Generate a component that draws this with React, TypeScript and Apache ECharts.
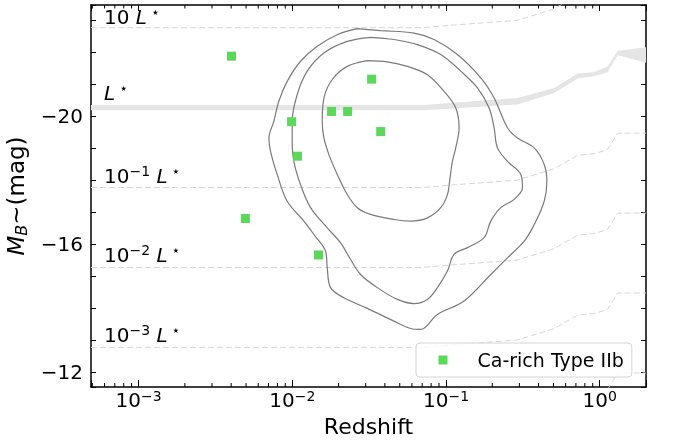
import React, { useEffect, useRef } from 'react';
import * as echarts from 'echarts';

const FONT = 'DejaVu Sans';

// Ca-rich Type IIb sample (redshift, M_B)
const caRichZ = [0.00402, 0.00989, 0.0108, 0.018, 0.0229, 0.0328, 0.0376, 0.00495, 0.0148];
const caRichMag = [-21.88, -19.83, -18.75, -20.15, -20.15, -21.16, -19.52, -16.8, -15.66];

// density contours of the comparison sample
const outerZ = [0.02646, 0.03754, 0.06189, 0.08357, 0.1186, 0.1683, 0.2055, 0.2511, 0.2917, 0.3746, 0.4352, 0.453, 0.4352, 0.3746, 0.3225, 0.2511, 0.1955, 0.131, 0.08785, 0.06843, 0.05891, 0.04587, 0.03074, 0.02166, 0.01773, 0.01687, 0.01645, 0.01381, 0.01189, 0.00926, 0.00797, 0.00721, 0.00704, 0.00758, 0.00817, 0.00926, 0.01131, 0.01452, 0.0196];
const outerMag = [-22.74, -22.68, -22.6, -22.4, -21.93, -21.2, -20.57, -19.64, -19.32, -19.01, -18.49, -17.97, -17.34, -16.61, -16.09, -15.57, -15.05, -14.22, -13.8, -13.33, -13.36, -13.59, -13.99, -14.32, -14.64, -15.26, -15.78, -16.3, -16.72, -17.34, -18.18, -18.91, -19.32, -19.84, -20.47, -21.09, -21.72, -22.19, -22.55];
const middleZ = [0.03232, 0.04587, 0.06509, 0.09236, 0.1247, 0.1601, 0.1907, 0.2055, 0.2161, 0.2511, 0.3067, 0.3144, 0.2773, 0.2271, 0.1955, 0.1768, 0.1378, 0.1128, 0.1021, 0.08785, 0.07562, 0.06189, 0.04823, 0.0357, 0.02781, 0.02394, 0.02061, 0.01687, 0.01314, 0.01131, 0.01023, 0.00998, 0.00998, 0.01076, 0.0125, 0.01605, 0.02277];
const middleMag = [-22.47, -22.4, -22.24, -21.93, -21.41, -20.89, -20.26, -19.64, -19.01, -18.59, -18.18, -17.76, -17.4, -17.14, -16.72, -16.2, -15.89, -15.68, -15.16, -14.64, -14.27, -14.14, -14.27, -14.64, -15.05, -15.52, -16.04, -16.51, -17.14, -17.86, -18.59, -19.22, -19.84, -20.68, -21.41, -21.98, -22.34];
const innerZ = [0.03074, 0.0415, 0.05601, 0.07562, 0.09709, 0.1157, 0.1216, 0.1157, 0.11, 0.1062, 0.1021, 0.09236, 0.07562, 0.05891, 0.04587, 0.03232, 0.02646, 0.02277, 0.0196, 0.0173, 0.01605, 0.01565, 0.01605, 0.01819, 0.02277];
const innerMag = [-21.74, -21.7, -21.56, -21.3, -20.78, -20.26, -19.64, -19.01, -18.59, -18.07, -17.55, -17.14, -16.82, -16.72, -16.77, -16.93, -17.14, -17.55, -18.18, -18.8, -19.32, -19.84, -20.57, -21.15, -21.56];

// L* band (bright and faint edges)
const bandZ = [0.00049, 0.0716, 0.292, 0.506, 0.718, 0.916, 1.125, 1.31, 2.0];
const bandUpper = [-20.35, -20.35, -20.57, -20.88, -21.34, -21.38, -21.56, -22.05, -22.16];
const bandLower = [-20.19, -20.19, -20.37, -20.73, -21.18, -21.25, -21.38, -21.91, -21.67];

// luminosity-level tracks
const trackZ = [0.00049, 0.07, 0.11, 0.29, 0.5, 0.72, 0.92, 1.12, 1.31, 2.0];
const track10 = [-22.77, -22.77, -22.85, -23.0, -23.35, -23.78, -23.83, -23.95, -24.47, -24.47];
const trackM1 = [-17.77, -17.77, -17.85, -18.0, -18.35, -18.78, -18.83, -18.95, -19.47, -19.47];
const trackM2 = [-15.27, -15.27, -15.35, -15.5, -15.85, -16.28, -16.33, -16.45, -16.97, -16.97];
const trackM3 = [-12.77, -12.77, -12.85, -13.0, -13.35, -13.78, -13.83, -13.95, -14.47, -14.47];
const trackM4 = [-10.27, -10.27, -10.35, -10.5, -10.85, -11.28, -11.33, -11.45, -11.97, -11.97];

// annotation texts: [mantissa, exponent]
const lumPrefix = ['10 ', '', '10', '10', '10'];
const lumExp = ['', '', '−1', '−2', '−3'];
const lumBaseline = [24, 100, 183, 262, 342];

const X_MIN = 0.00049;
const X_MAX = 2.0;
const Y_MIN = -23.48;
const Y_MAX = -11.53;

const legendName = 'Ca-rich Type IIb';

const zip = (xs: number[], ys: number[]) => xs.map((x, i) => [x, ys[i]]);
const loop = (xs: number[], ys: number[]) => {
  const d = zip(xs, ys);
  d.push(d[0]);
  return d;
};

const texRich = {
  n: { fontSize: 20, lineHeight: 24, fill: '#000', fontFamily: FONT },
  e: { fontSize: 14, lineHeight: 14, verticalAlign: 'top', fill: '#000', fontFamily: FONT },
  l: { fontSize: 20, lineHeight: 24, fontStyle: 'italic', fill: '#000', fontFamily: FONT },
  s: { fontSize: 14, lineHeight: 14, verticalAlign: 'top', fill: '#000', fontFamily: FONT, padding: [0, 0, 0, 4] },
};

export default function App() {
  const ref = useRef<HTMLDivElement>(null);

  useEffect(() => {
    if (!ref.current) return;
    const chart = echarts.init(ref.current, null, { renderer: 'svg' });

    const dashStyle = { type: [6, 3], color: '#d6d6d6', width: 1 };
    const track = (name: string, ys: number[]) => ({
      name,
      type: 'line',
      data: zip(trackZ, ys),
      symbol: 'none',
      silent: true,
      lineStyle: dashStyle,
      z: 2,
    });
    const contour = (name: string, zs: number[], ms: number[]) => ({
      name,
      type: 'line',
      data: loop(zs, ms),
      symbol: 'none',
      smooth: 0.35,
      silent: true,
      lineStyle: { color: '#7a7a7a', width: 1.2 },
      z: 3,
    });

    const tickLabelFmt = (v: number) => {
      const l = Math.log10(v);
      const e = Math.round(l);
      if (Math.abs(l - e) > 1e-6) return '';
      const es = e < 0 ? '−' + Math.abs(e) : String(e);
      return '{b|10}{e|' + es + '}';
    };

    const option: any = {
      animation: false,
      textStyle: { fontFamily: FONT },
      grid: { left: 91, right: 27, top: 5, bottom: 55, containLabel: false, outerBoundsMode: 'none' },
      xAxis: [
        {
          type: 'log',
          logBase: 10,
          min: X_MIN,
          max: X_MAX,
          position: 'bottom',
          axisLine: { lineStyle: { color: '#000', width: 1.5 } },
          axisTick: { inside: true, length: 7, lineStyle: { color: '#000', width: 1 } },
          splitLine: { show: false },
          axisLabel: {
            formatter: tickLabelFmt,
            margin: 2,
            color: '#000',
            rich: {
              b: { fontSize: 20, lineHeight: 22, color: '#000', fontFamily: FONT },
              e: { fontSize: 14, lineHeight: 14, verticalAlign: 'top', color: '#000', fontFamily: FONT },
            },
          },
          name: 'Redshift',
          nameLocation: 'middle',
          nameGap: 28,
          nameTextStyle: { fontSize: 22, color: '#000', fontFamily: FONT, verticalAlign: 'top' },
        },
        {
          type: 'log',
          logBase: 10,
          min: X_MIN,
          max: X_MAX,
          position: 'top',
          axisLine: { lineStyle: { color: '#000', width: 1.5 } },
          axisTick: { inside: true, length: 6, lineStyle: { color: '#000', width: 1 } },
          splitLine: { show: false },
          axisLabel: { show: false },
        },
      ],
      yAxis: [
        {
          type: 'value',
          inverse: true,
          min: Y_MIN,
          max: Y_MAX,
          splitNumber: 12,
          position: 'left',
          axisLine: { lineStyle: { color: '#000', width: 1.5 } },
          axisTick: { inside: true, length: 5, lineStyle: { color: '#000', width: 1 } },
          splitLine: { show: false },
          axisLabel: {
            margin: 8,
            fontSize: 20,
            color: '#000',
            padding: [7, 0, 0, 0],
            formatter: (v: number) => {
              const r = Math.round(v);
              if (Math.abs(r - v) > 1e-6 || r % 4 !== 0) return '';
              return (r < 0 ? '−' : '') + Math.abs(r);
            },
          },
          name: '{i|M}{sub|B}{t|~(mag)}',
          nameLocation: 'middle',
          nameGap: 52,
          nameTextStyle: {
            color: '#000',
            fontSize: 23,
            rich: {
              i: { fontStyle: 'italic', fontSize: 23, lineHeight: 28, color: '#000', fontFamily: FONT },
              sub: { fontStyle: 'italic', fontSize: 16, lineHeight: 16, verticalAlign: 'bottom', color: '#000', fontFamily: FONT },
              t: { fontSize: 23, lineHeight: 28, color: '#000', fontFamily: FONT },
            },
          },
        },
        {
          type: 'value',
          inverse: true,
          min: Y_MIN,
          max: Y_MAX,
          splitNumber: 12,
          position: 'right',
          axisLine: { lineStyle: { color: '#000', width: 1.5 } },
          axisTick: { inside: true, length: 5, lineStyle: { color: '#000', width: 1 } },
          splitLine: { show: false },
          axisLabel: { show: false },
        },
      ],
      legend: {
        data: [legendName],
        left: 416,
        top: 343,
        orient: 'horizontal',
        padding: [7.5, 8, 7.5, 22.5],
        itemWidth: 9,
        itemHeight: 9,
        backgroundColor: 'rgba(255,255,255,0.8)',
        borderColor: '#d4d4d4',
        borderWidth: 1,
        borderRadius: 4,
        textStyle: { fontSize: 19, lineHeight: 19, color: '#000', fontFamily: FONT, padding: [0, 0, 0, 25] },
      },
      series: [
        {
          name: 'Lstar band',
          type: 'custom',
          silent: true,
          clip: true,
          z: 1,
          data: [[bandZ[0], bandUpper[0]]],
          renderItem: (_p: any, api: any) => {
            const pts: number[][] = [];
            for (let i = 0; i < bandZ.length; i++) pts.push(api.coord([bandZ[i], bandUpper[i]]));
            for (let i = bandZ.length - 1; i >= 0; i--) pts.push(api.coord([bandZ[i], bandLower[i]]));
            return { type: 'polygon', shape: { points: pts }, style: { fill: '#e5e5e5', stroke: 'none' } };
          },
        },
        track('10 L*', track10),
        track('0.1 L*', trackM1),
        track('0.01 L*', trackM2),
        track('0.001 L*', trackM3),
        track('0.0001 L*', trackM4),
        contour('outer', outerZ, outerMag),
        contour('middle', middleZ, middleMag),
        contour('inner', innerZ, innerMag),
        {
          name: legendName,
          type: 'scatter',
          data: zip(caRichZ, caRichMag),
          symbol: 'rect',
          symbolSize: 9,
          itemStyle: { color: '#5BD75B', opacity: 1 },
          z: 5,
        },
      ],
    };

    chart.setOption(option);

    // minor log ticks and level annotations
    const yBottom = chart.convertToPixel({ yAxisIndex: 0 }, Y_MAX) as number;
    const yTop = chart.convertToPixel({ yAxisIndex: 0 }, Y_MIN) as number;
    const graphics: any[] = [];
    for (let d = -4; d <= 0; d++) {
      for (let k = 2; k <= 9; k++) {
        const v = k * Math.pow(10, d);
        if (v <= X_MIN || v >= X_MAX) continue;
        const x = chart.convertToPixel({ xAxisIndex: 0 }, v) as number;
        graphics.push({ type: 'line', silent: true, z: 100, shape: { x1: x, y1: yBottom, x2: x, y2: yBottom - 4 }, style: { stroke: '#000', lineWidth: 1 } });
        graphics.push({ type: 'line', silent: true, z: 100, shape: { x1: x, y1: yTop, x2: x, y2: yTop + 3.5 }, style: { stroke: '#000', lineWidth: 1 } });
      }
    }
    for (let i = 0; i < lumPrefix.length; i++) {
      let t = '';
      if (lumPrefix[i]) t += '{n|' + lumPrefix[i] + '}';
      if (lumExp[i]) t += '{e|' + lumExp[i] + '}{n| }';
      t += '{l|L}{s|⋆}';
      graphics.push({
        type: 'text',
        silent: true,
        z: 100,
        x: 104,
        y: lumBaseline[i] - 18.9,
        style: { text: t, rich: texRich, fill: '#000', fontSize: 20, fontFamily: FONT, verticalAlign: 'top', align: 'left' },
      });
    }
    chart.setOption({ graphic: graphics });

    return () => chart.dispose();
  }, []);

  return <div ref={ref} style={{ position: 'fixed', left: 0, top: 0, width: 673, height: 442 }} />;
}
